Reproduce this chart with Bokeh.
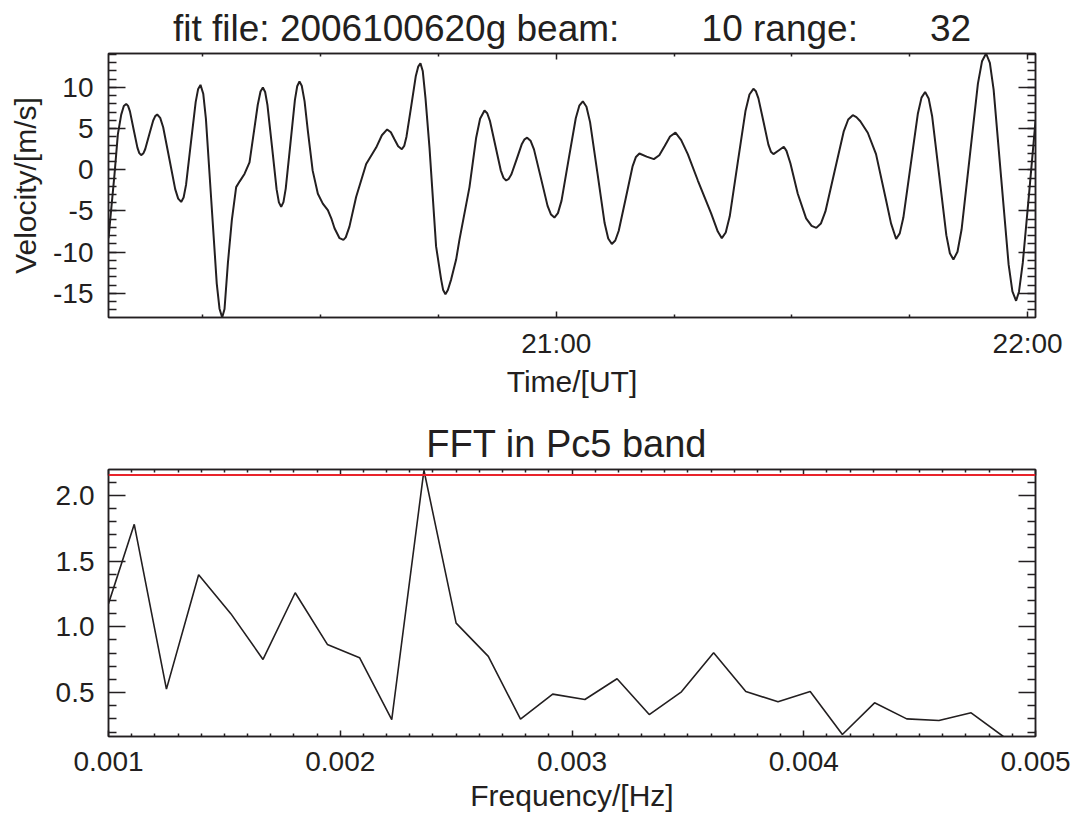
from bokeh.plotting import figure
from bokeh.models import Range1d, LinearAxis, FixedTicker, Span
from bokeh.layouts import column
from bokeh.embed import file_html
from bokeh.resources import INLINE

# ---------------- data: velocity time series (minutes after 20:00 UT) ----------------
time_min = [3.0, 3.77, 4.19, 4.62, 4.95, 5.25, 5.49, 5.73, 6.2, 6.68, 6.92, 7.16, 7.42, 7.67, 8.18, 8.69, 8.95,
            9.2, 9.58, 9.96, 10.73, 11.49, 11.87, 12.25, 12.56, 12.87, 13.48, 14.1, 14.4, 14.71, 15.06, 15.4,
            16.09, 16.78, 17.13, 17.47, 17.77, 18.2, 18.7, 19.25, 19.7, 20.31, 20.95, 21.58, 22.0, 22.35, 22.65,
            22.94, 23.23, 23.82, 24.4, 24.69, 24.98, 25.27, 25.56, 26.15, 26.73, 27.02, 27.31, 27.6, 27.96, 28.38,
            28.99, 29.65, 30.28, 30.92, 31.4, 31.77, 32.41, 32.9, 33.2, 33.67, 34.52, 35.8, 37.07, 37.8, 38.47,
            38.94, 39.4, 39.87, 40.34, 40.64, 40.93, 41.53, 42.12, 42.42, 42.71, 43.0, 43.35, 43.86, 44.7, 45.34,
            45.6, 45.89, 46.2, 46.62, 47.25, 47.67, 48.95, 49.8, 50.3, 50.86, 51.21, 51.55, 52.24, 52.93, 53.28,
            53.62, 53.95, 54.29, 54.96, 55.62, 55.96, 56.29, 56.72, 57.16, 58.03, 58.89, 59.33, 59.76, 60.21,
            60.67, 61.57, 62.48, 62.93, 63.38, 63.84, 64.3, 65.23, 66.15, 66.61, 67.07, 67.51, 67.95, 68.83,
            69.7, 70.14, 70.58, 71.5, 72.42, 73.11, 73.8, 74.48, 75.17, 75.9, 76.74, 78.02, 79.71, 80.56, 81.07,
            81.57, 82.08, 83.08, 84.09, 84.59, 85.09, 85.41, 85.73, 86.37, 87.0, 87.32, 87.64, 88.3, 88.96, 89.3,
            89.8, 90.74, 91.8, 92.5, 93.1, 93.68, 94.26, 95.42, 96.58, 97.16, 97.74, 98.2, 98.7, 99.65, 100.7,
            101.98, 102.61, 103.26, 103.72, 104.18, 105.1, 106.03, 106.49, 106.95, 107.4, 107.85, 108.75, 109.65,
            110.1, 110.55, 111.07, 111.59, 112.63, 113.67, 114.19, 114.71, 115.19, 115.67, 116.62, 117.58, 118.06,
            118.53, 118.9, 119.38, 120.22, 121.0]
velocity = [-8.3, -0.5, 4.3, 6.7, 7.75, 8.0, 7.76, 7.09, 4.89, 2.69, 2.02, 1.78, 1.97, 2.5, 4.25, 5.99, 6.52,
            6.71, 6.31, 5.16, 1.41, -2.35, -3.5, -3.9, -3.36, -1.83, 3.21, 8.24, 9.77, 10.31, 9.24, 6.19,
            -3.81, -13.81, -16.86, -17.93, -16.9, -11.3, -6.1, -2.1, -1.4, -0.5, 0.9, 5.1, 7.9, 9.5, 10.0,
            9.45, 7.88, 2.75, -2.38, -3.95, -4.5, -3.92, -2.28, 3.11, 8.5, 10.14, 10.72, 10.2, 8.3, 4.7,
            -0.1, -2.9, -4.1, -4.9, -6.0, -7.1, -8.3, -8.5, -8.2, -6.9, -3.3, 0.7, 2.7, 4.2, 4.9,
            4.55, 3.7, 2.85, 2.5, 2.9, 4.02, 7.71, 11.4, 12.52, 12.92, 12.0, 8.7, 2.7, -9.3, -13.3,
            -14.6, -15.1, -14.6, -13.3, -10.9, -8.5, -2.1, 3.9, 6.2, 7.19, 6.87, 5.95, 2.95, -0.06, -0.98,
            -1.3, -1.1, -0.54, 1.3, 3.14, 3.7, 3.9, 3.53, 2.48, -0.95, -4.38, -5.43, -5.8, -5.26,
            -3.74, 1.26, 6.26, 7.78, 8.32, 7.66, 5.79, -0.34, -6.47, -8.34, -9.0, -8.58, -7.4, -3.51,
            0.38, 1.56, 1.98, 1.6, 1.3, 1.77, 2.9, 4.04, 4.51, 3.6, 1.9, -1.3, -5.3, -7.5, -8.3,
            -7.61, -5.65, 0.77, 7.18, 9.14, 9.83, 9.53, 8.67, 5.87, 3.06, 2.2, 1.9, 2.35, 2.8, 2.3,
            0.8, -2.9, -5.9, -6.8, -7.05, -6.53, -5.05, -0.21, 4.63, 6.11, 6.63, 6.4, 5.9, 4.5, 1.9,
            -3.7, -6.5, -8.4, -7.72, -5.8, 0.52, 6.84, 8.76, 9.44, 8.67, 6.47, -0.73, -7.93,
            -10.13, -10.9, -9.95, -7.25, 1.61, 10.47, 13.17, 14.12, 12.98, 9.74, -0.89, -11.52, -14.76,
            -15.9, -14.8, -11.3, -2.5, 5.9]

time_major = [60, 120]
time_labels = ["21:00", "22:00"]
time_minor = [15, 30, 45, 75, 90, 105]
vel_major = [-15, -10, -5, 0, 5, 10]
vel_labels = ["-15", "-10", "-5", "0", "5", "10"]
vel_minor = list(range(-17, 15))

# ---------------- data: FFT spectrum ----------------
freq_hz = [0.001, 0.0011111, 0.00125, 0.0013889, 0.0015278, 0.0016667, 0.0018056, 0.0019444, 0.0020833,
           0.0022222, 0.0023611, 0.0025, 0.0026389, 0.0027778, 0.0029167, 0.0030556, 0.0031944, 0.0033333,
           0.0034722, 0.0036111, 0.00375, 0.0038889, 0.0040278, 0.0041667, 0.0043056, 0.0044444, 0.0045833,
           0.0047222, 0.0048611]
fft_amp = [1.176, 1.779, 0.526, 1.396, 1.10, 0.752, 1.259, 0.866, 0.765,
           0.295, 2.19, 1.028, 0.775, 0.298, 0.488, 0.447, 0.605, 0.333,
           0.506, 0.803, 0.508, 0.43, 0.508, 0.181, 0.422, 0.30, 0.288,
           0.346, 0.166]
threshold = 2.155

freq_major = [0.001, 0.002, 0.003, 0.004, 0.005]
freq_labels = ["0.001", "0.002", "0.003", "0.004", "0.005"]
freq_minor = [round(0.001 + 0.0001 * i, 4) for i in range(1, 40) if i % 10 != 0]
amp_major = [0.5, 1.0, 1.5, 2.0]
amp_labels = ["0.5", "1.0", "1.5", "2.0"]
amp_minor = [round(0.1 * i, 1) for i in range(2, 22) if i % 5 != 0]

FONT = "Liberation Sans"
INK = "#231f20"
TICK_PX = "28px"
LABEL_PX = "30px"


def style_axis(ax, major_len, minor_len, labels=None, ticks=None):
    ax.major_tick_in = major_len
    ax.major_tick_out = 0
    ax.minor_tick_in = minor_len
    ax.minor_tick_out = 0
    ax.axis_line_color = INK
    ax.axis_line_width = 1.5
    ax.major_tick_line_color = INK
    ax.minor_tick_line_color = INK
    ax.major_tick_line_width = 1.5
    ax.minor_tick_line_width = 1.5
    ax.major_label_text_font = FONT
    ax.major_label_text_color = INK
    ax.major_label_text_font_size = TICK_PX
    ax.axis_label_text_font = FONT
    ax.axis_label_text_font_size = LABEL_PX
    ax.axis_label_text_font_style = "normal"
    ax.axis_label_text_color = INK
    if labels is None:
        ax.major_label_overrides = {t: "" for t in ticks}
        ax.major_label_text_font_size = "1px"
        ax.major_label_standoff = 0
    else:
        ax.major_label_overrides = dict(zip(ticks, labels))


def make_fig(height, top, bottom, xr, yr, title, title_px):
    p = figure(width=1074, height=height, x_range=xr, y_range=yr,
               output_backend="svg", toolbar_location=None,
               min_border_left=108, min_border_right=39,
               min_border_top=top, min_border_bottom=bottom)
    p.title.text = title
    p.title.align = "center"
    p.title.text_font = FONT
    p.title.text_font_style = "normal"
    p.title.text_color = INK
    p.title.text_font_size = title_px
    p.xgrid.visible = False
    p.ygrid.visible = False
    p.outline_line_color = INK
    p.outline_line_width = 1.5
    p.background_fill_color = "white"
    p.border_fill_color = "white"
    return p


# ---------------- top panel ----------------
nb = "\u00a0"
title1 = "fit file: 2006100620g beam:" + nb * 8 + "10 range:" + nb * 7 + "32"
p1 = make_fig(400, 53, 80, Range1d(3, 121), Range1d(-17.93, 14.12), title1, "37px")
p1.line(time_min, velocity, line_color=INK, line_width=2)

xt1 = FixedTicker(ticks=time_major, minor_ticks=time_minor)
yt1 = FixedTicker(ticks=vel_major, minor_ticks=vel_minor)
p1.xaxis.ticker = xt1
p1.yaxis.ticker = yt1
style_axis(p1.xaxis[0], 6, 3, time_labels, time_major)
style_axis(p1.yaxis[0], 17, 8, vel_labels, vel_major)
p1.xaxis.axis_label = "Time/[UT]"
p1.yaxis.axis_label = "Velocity/[m/s]"
p1.xaxis.major_label_standoff = 10
p1.yaxis.major_label_standoff = 15
p1.xaxis.axis_label_standoff = 3
p1.yaxis.axis_label_standoff = 8

ax_top1 = LinearAxis(ticker=xt1)
style_axis(ax_top1, 6, 3, None, time_major)
p1.add_layout(ax_top1, "above")
ax_right1 = LinearAxis(ticker=yt1)
style_axis(ax_right1, 17, 8, None, vel_major)
p1.add_layout(ax_right1, "right")

# ---------------- bottom panel ----------------
p2 = make_fig(414, 69, 78, Range1d(0.001, 0.005), Range1d(0.166, 2.196), "FFT in Pc5 band" + nb, "38px")
p2.line(freq_hz, fft_amp, line_color=INK, line_width=1.6)
p2.add_layout(Span(location=threshold, dimension="width", line_color="#e8232b", line_width=2))

xt2 = FixedTicker(ticks=freq_major, minor_ticks=freq_minor)
yt2 = FixedTicker(ticks=amp_major, minor_ticks=amp_minor)
p2.xaxis.ticker = xt2
p2.yaxis.ticker = yt2
style_axis(p2.xaxis[0], 6, 3, freq_labels, freq_major)
style_axis(p2.yaxis[0], 17, 8, amp_labels, amp_major)
p2.xaxis.axis_label = "Frequency/[Hz]"
p2.xaxis.major_label_standoff = 15
p2.yaxis.major_label_standoff = 14
p2.xaxis.axis_label_standoff = 5

ax_top2 = LinearAxis(ticker=xt2)
style_axis(ax_top2, 6, 3, None, freq_major)
p2.add_layout(ax_top2, "above")
ax_right2 = LinearAxis(ticker=yt2)
style_axis(ax_right2, 17, 8, None, amp_major)
p2.add_layout(ax_right2, "right")

layout = column(p1, p2, spacing=0)
open("out.html", "w").write(file_html(layout, INLINE))
